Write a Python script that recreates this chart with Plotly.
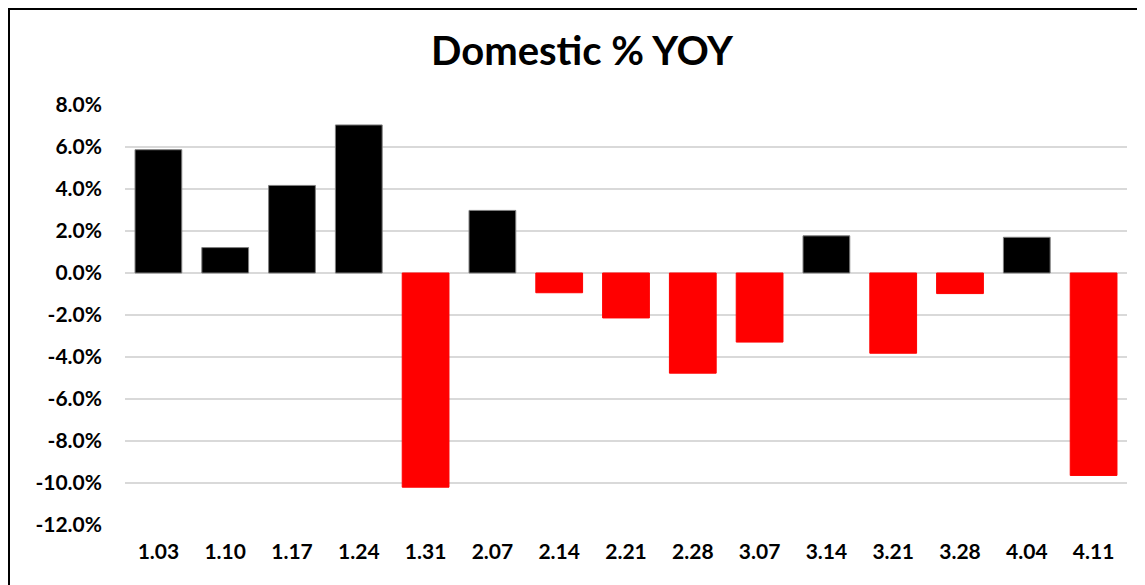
import plotly.graph_objects as go

categories = ["1.03", "1.10", "1.17", "1.24", "1.31", "2.07", "2.14", "2.21",
              "2.28", "3.07", "3.14", "3.21", "3.28", "4.04", "4.11"]
values = [5.87, 1.21, 4.17, 7.05, -10.2, 2.98, -0.94, -2.14,
          -4.77, -3.29, 1.77, -3.82, -0.98, 1.70, -9.64]
tick_vals = [8, 6, 4, 2, 0, -2, -4, -6, -8, -10, -12]
tick_text = ["8.0%", "6.0%", "4.0%", "2.0%", "0.0%", "-2.0%", "-4.0%",
             "-6.0%", "-8.0%", "-10.0%", "-12.0%"]

FONT = "Lato, 'DejaVu Sans', sans-serif"

colors = ["#000000" if v >= 0 else "#FF0000" for v in values]
line_colors = ["#7f7f7f" if v >= 0 else "#FF0000" for v in values]

L, R, T, B = 117, 26, 97, 68
W, H = 1145, 585
PW, PH = W - L - R, H - T - B

fig = go.Figure(go.Bar(
    x=categories, y=values,
    marker=dict(color=colors, line=dict(color=line_colors, width=1)),
    hovertemplate="%{x}: %{y:.1f}%<extra></extra>",
))

fig.update_layout(
    width=W, height=H,
    paper_bgcolor="white", plot_bgcolor="white",
    margin=dict(l=L, r=R, t=T, b=B),
    bargap=0.3,
    showlegend=False,
    title=dict(text="<b>Domestic % YOY</b>", x=574 / W, xanchor="center",
               y=1 - 43 / H, yanchor="middle",
               font=dict(family=FONT, size=40, color="#000000")),
    font=dict(family=FONT, color="#000000"),
    shapes=[dict(type="rect", xref="paper", yref="paper",
                 x0=-(L - 1) / PW, x1=(W - L + 20) / PW,
                 y0=-(B + 20) / PH, y1=1 + (T - 1) / PH,
                 line=dict(color="#000000", width=2), layer="below")],
)

fig.update_xaxes(
    type="category", showgrid=False, zeroline=False, showline=False,
    ticks="", tickfont=dict(family=FONT, size=21, color="#000000", weight="bold"),
    ticklabelstandoff=12,
)
fig.update_yaxes(
    range=[-12, 8], tickvals=tick_vals, ticktext=tick_text,
    showgrid=True, gridcolor="#d9d9d9", gridwidth=1.5,
    zeroline=True, zerolinecolor="#d9d9d9", zerolinewidth=1.5,
    showline=False, ticks="",
    tickfont=dict(family=FONT, size=21, color="#000000", weight="bold"),
    ticklabelstandoff=22,
)

fig.write_html("out.html")
